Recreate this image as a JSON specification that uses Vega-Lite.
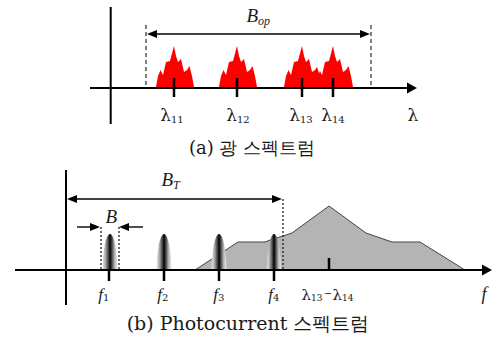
{
  "$schema": "https://vega.github.io/schema/vega-lite/v6.json",
  "width": 492,
  "height": 342,
  "padding": 0,
  "autosize": {"type": "fit", "contains": "padding"},
  "config": {"view": {"stroke": null}},
  "datasets": {
    "thick": [
      {"x": 90, "y": 88, "xe": 410, "ye": 88},
      {"x": 110.7, "y": 7, "xe": 110.7, "ye": 124},
      {"x": 15, "y": 270, "xe": 484, "ye": 270},
      {"x": 66, "y": 170, "xe": 66, "ye": 305}
    ],
    "ticks": [
      {"x": 174, "y": 78, "xe": 174, "ye": 97},
      {"x": 237, "y": 78, "xe": 237, "ye": 97},
      {"x": 302, "y": 78, "xe": 302, "ye": 97},
      {"x": 333, "y": 78, "xe": 333, "ye": 97},
      {"x": 109, "y": 270, "xe": 109, "ye": 281},
      {"x": 164, "y": 270, "xe": 164, "ye": 281},
      {"x": 219, "y": 270, "xe": 219, "ye": 281},
      {"x": 274, "y": 270, "xe": 274, "ye": 281},
      {"x": 329, "y": 258, "xe": 329, "ye": 270}
    ],
    "thin": [
      {"x": 150, "y": 34, "xe": 366, "ye": 34},
      {"x": 70, "y": 199, "xe": 278, "ye": 199},
      {"x": 77, "y": 227, "xe": 92, "ye": 227},
      {"x": 127, "y": 227, "xe": 143, "ye": 227}
    ],
    "dashed": [
      {"x": 146, "y": 25, "xe": 146, "ye": 87},
      {"x": 371, "y": 25, "xe": 371, "ye": 87}
    ],
    "dotted": [
      {"x": 101, "y": 227, "xe": 101, "ye": 270},
      {"x": 119, "y": 227, "xe": 119, "ye": 270},
      {"x": 283, "y": 199, "xe": 283, "ye": 270}
    ],
    "heads": [
      {"x": 152, "y": 34, "dir": "l"},
      {"x": 365, "y": 34, "dir": "r"},
      {"x": 72, "y": 199, "dir": "l"},
      {"x": 277, "y": 199, "dir": "r"},
      {"x": 95, "y": 227, "dir": "r"},
      {"x": 124, "y": 227, "dir": "l"}
    ],
    "axheads": [
      {"x": 412, "y": 88, "dir": "r"},
      {"x": 487, "y": 270, "dir": "r"}
    ],
    "red": [
      {"g": 1, "x": 156, "y": 87}, {"g": 1, "x": 158, "y": 76}, {"g": 1, "x": 160.5, "y": 70}, {"g": 1, "x": 163, "y": 75}, {"g": 1, "x": 166, "y": 62}, {"g": 1, "x": 170, "y": 61}, {"g": 1, "x": 174, "y": 46}, {"g": 1, "x": 176, "y": 56}, {"g": 1, "x": 178, "y": 62}, {"g": 1, "x": 181, "y": 59}, {"g": 1, "x": 184, "y": 72}, {"g": 1, "x": 187, "y": 70}, {"g": 1, "x": 189.5, "y": 66}, {"g": 1, "x": 192, "y": 76}, {"g": 1, "x": 194, "y": 87},
      {"g": 2, "x": 219, "y": 87}, {"g": 2, "x": 221, "y": 76}, {"g": 2, "x": 223.5, "y": 70}, {"g": 2, "x": 226, "y": 75}, {"g": 2, "x": 229, "y": 62}, {"g": 2, "x": 233, "y": 61}, {"g": 2, "x": 237, "y": 46}, {"g": 2, "x": 239, "y": 56}, {"g": 2, "x": 241, "y": 62}, {"g": 2, "x": 244, "y": 59}, {"g": 2, "x": 247, "y": 72}, {"g": 2, "x": 250, "y": 70}, {"g": 2, "x": 252.5, "y": 66}, {"g": 2, "x": 255, "y": 76}, {"g": 2, "x": 257, "y": 87},
      {"g": 3, "x": 284, "y": 87}, {"g": 3, "x": 286, "y": 76}, {"g": 3, "x": 288.5, "y": 70}, {"g": 3, "x": 291, "y": 75}, {"g": 3, "x": 294, "y": 62}, {"g": 3, "x": 298, "y": 61}, {"g": 3, "x": 302, "y": 46}, {"g": 3, "x": 304, "y": 56}, {"g": 3, "x": 306, "y": 62}, {"g": 3, "x": 309, "y": 59}, {"g": 3, "x": 312, "y": 72}, {"g": 3, "x": 315, "y": 70}, {"g": 3, "x": 317, "y": 67}, {"g": 3, "x": 320, "y": 76}, {"g": 3, "x": 322, "y": 87},
      {"g": 4, "x": 316, "y": 87}, {"g": 4, "x": 318, "y": 76}, {"g": 4, "x": 320, "y": 71}, {"g": 4, "x": 322, "y": 75}, {"g": 4, "x": 325, "y": 62}, {"g": 4, "x": 329, "y": 61}, {"g": 4, "x": 333, "y": 46}, {"g": 4, "x": 335, "y": 56}, {"g": 4, "x": 337, "y": 62}, {"g": 4, "x": 340, "y": 59}, {"g": 4, "x": 343, "y": 72}, {"g": 4, "x": 346, "y": 70}, {"g": 4, "x": 348.5, "y": 66}, {"g": 4, "x": 351, "y": 76}, {"g": 4, "x": 353, "y": 87}
    ],
    "grayarea": [
      {"x": 195, "y": 270}, {"x": 238, "y": 242}, {"x": 265, "y": 242}, {"x": 270, "y": 240}, {"x": 283, "y": 236}, {"x": 292, "y": 233}, {"x": 329, "y": 206}, {"x": 366, "y": 233}, {"x": 392, "y": 242}, {"x": 420, "y": 242}, {"x": 465, "y": 270}
    ],
    "bells": [
      {"g": 1, "x": 102.5, "y": 270}, {"g": 1, "x": 103, "y": 258}, {"g": 1, "x": 103.7, "y": 252}, {"g": 1, "x": 104.7, "y": 245}, {"g": 1, "x": 105.8, "y": 240.5}, {"g": 1, "x": 107.3, "y": 236.5}, {"g": 1, "x": 109, "y": 234.3}, {"g": 1, "x": 110, "y": 234}, {"g": 1, "x": 111, "y": 234.3}, {"g": 1, "x": 112.7, "y": 236.5}, {"g": 1, "x": 114.2, "y": 240.5}, {"g": 1, "x": 115.3, "y": 245}, {"g": 1, "x": 116.3, "y": 252}, {"g": 1, "x": 117, "y": 258}, {"g": 1, "x": 117.5, "y": 270},
      {"g": 2, "x": 156.5, "y": 270}, {"g": 2, "x": 157, "y": 258}, {"g": 2, "x": 157.7, "y": 252}, {"g": 2, "x": 158.7, "y": 245}, {"g": 2, "x": 159.8, "y": 240.5}, {"g": 2, "x": 161.3, "y": 236.5}, {"g": 2, "x": 163, "y": 234.3}, {"g": 2, "x": 164, "y": 234}, {"g": 2, "x": 165, "y": 234.3}, {"g": 2, "x": 166.7, "y": 236.5}, {"g": 2, "x": 168.2, "y": 240.5}, {"g": 2, "x": 169.3, "y": 245}, {"g": 2, "x": 170.3, "y": 252}, {"g": 2, "x": 171, "y": 258}, {"g": 2, "x": 171.5, "y": 270},
      {"g": 3, "x": 211.5, "y": 270}, {"g": 3, "x": 212, "y": 258}, {"g": 3, "x": 212.7, "y": 252}, {"g": 3, "x": 213.7, "y": 245}, {"g": 3, "x": 214.8, "y": 240.5}, {"g": 3, "x": 216.3, "y": 236.5}, {"g": 3, "x": 218, "y": 234.3}, {"g": 3, "x": 219, "y": 234}, {"g": 3, "x": 220, "y": 234.3}, {"g": 3, "x": 221.7, "y": 236.5}, {"g": 3, "x": 223.2, "y": 240.5}, {"g": 3, "x": 224.3, "y": 245}, {"g": 3, "x": 225.3, "y": 252}, {"g": 3, "x": 226, "y": 258}, {"g": 3, "x": 226.5, "y": 270},
      {"g": 4, "x": 267, "y": 270}, {"g": 4, "x": 267.5, "y": 258}, {"g": 4, "x": 268, "y": 252}, {"g": 4, "x": 269, "y": 245}, {"g": 4, "x": 270, "y": 240.5}, {"g": 4, "x": 271.5, "y": 236.5}, {"g": 4, "x": 273, "y": 234.3}, {"g": 4, "x": 274, "y": 234}, {"g": 4, "x": 275, "y": 234.3}, {"g": 4, "x": 276.5, "y": 236.5}, {"g": 4, "x": 278, "y": 240.5}, {"g": 4, "x": 279, "y": 245}, {"g": 4, "x": 280, "y": 252}, {"g": 4, "x": 280.5, "y": 258}, {"g": 4, "x": 281, "y": 270}
    ],
    "lamA": [
      {"x": 171, "y": 121, "main": "λ", "sub": "11"},
      {"x": 237, "y": 121, "main": "λ", "sub": "12"},
      {"x": 300, "y": 121, "main": "λ", "sub": "13"},
      {"x": 332, "y": 121, "main": "λ", "sub": "14"}
    ],
    "lamB": [
      {"x": 311, "y": 300, "main": "λ", "sub": "13"},
      {"x": 342, "y": 300, "main": "λ", "sub": "14"}
    ],
    "fl": [
      {"x": 103, "y": 300, "main": "f", "sub": "1"},
      {"x": 162, "y": 300, "main": "f", "sub": "2"},
      {"x": 218, "y": 300, "main": "f", "sub": "3"},
      {"x": 273, "y": 300, "main": "f", "sub": "4"}
    ],
    "Bl": [
      {"x": 258, "y": 22, "main": "B", "sub": "op"},
      {"x": 173, "y": 186, "main": "B", "sub": "T"},
      {"x": 117, "y": 223, "main": "B", "sub": ""}
    ],
    "upright": [
      {"x": 413, "y": 121, "t": "λ"}
    ],
    "italic": [
      {"x": 484, "y": 300, "t": "f"}
    ],
    "minus": [
      {"x": 328, "y": 297, "t": "−"}
    ],
    "capA": [
      {"x": 252, "y": 154, "t": "(a) 광 스펙트럼"}
    ],
    "capB": [
      {"x": 248, "y": 330, "t": "(b) Photocurrent 스펙트럼"}
    ]
  },
  "encoding": {
    "x": {"field": "x", "type": "quantitative", "scale": {"domain": [0, 492], "nice": false, "zero": false}, "axis": null},
    "y": {"field": "y", "type": "quantitative", "scale": {"domain": [0, 342], "nice": false, "zero": false, "reverse": true}, "axis": null}
  },
  "layer": [
    {
      "data": {"name": "red"},
      "mark": {"type": "area", "color": "#ff0000", "opacity": 1},
      "encoding": {"y2": {"datum": 88}, "detail": {"field": "g"}}
    },
    {
      "data": {"name": "grayarea"},
      "mark": {"type": "area", "fill": "#b4b4b4", "stroke": "#444444", "strokeWidth": 1, "opacity": 1, "fillOpacity": 1},
      "encoding": {"y2": {"datum": 270}}
    },
    {
      "data": {"name": "bells"},
      "mark": {"type": "area", "opacity": 1, "fill": {"gradient": "linear", "x1": 0, "x2": 1, "y1": 0, "y2": 0, "stops": [
        {"offset": 0, "color": "#ececec"},
        {"offset": 0.2, "color": "#a8a8a8"},
        {"offset": 0.4, "color": "#404040"},
        {"offset": 0.5, "color": "#000000"},
        {"offset": 0.62, "color": "#444444"},
        {"offset": 0.8, "color": "#b0b0b0"},
        {"offset": 1, "color": "#f0f0f0"}
      ]}},
      "encoding": {"y2": {"datum": 270}, "detail": {"field": "g"}}
    },
    {
      "data": {"name": "thick"},
      "mark": {"type": "rule", "color": "#000000", "strokeWidth": 2},
      "encoding": {"x2": {"field": "xe"}, "y2": {"field": "ye"}}
    },
    {
      "data": {"name": "ticks"},
      "mark": {"type": "rule", "color": "#000000", "strokeWidth": 2.5},
      "encoding": {"x2": {"field": "xe"}, "y2": {"field": "ye"}}
    },
    {
      "data": {"name": "thin"},
      "mark": {"type": "rule", "color": "#000000", "strokeWidth": 1.4},
      "encoding": {"x2": {"field": "xe"}, "y2": {"field": "ye"}}
    },
    {
      "data": {"name": "dashed"},
      "mark": {"type": "rule", "color": "#000000", "strokeWidth": 1, "strokeDash": [4, 3]},
      "encoding": {"x2": {"field": "xe"}, "y2": {"field": "ye"}}
    },
    {
      "data": {"name": "dotted"},
      "mark": {"type": "rule", "color": "#222222", "strokeWidth": 1.3, "strokeDash": [2, 2]},
      "encoding": {"x2": {"field": "xe"}, "y2": {"field": "ye"}}
    },
    {
      "data": {"name": "heads"},
      "mark": {"type": "point", "filled": true, "color": "#000000", "opacity": 1, "size": 100, "strokeWidth": 0},
      "encoding": {"shape": {"field": "dir", "type": "nominal", "scale": {"domain": ["r", "l"], "range": ["M-1,-0.8L1,0L-1,0.8Z", "M1,-0.8L-1,0L1,0.8Z"]}, "legend": null}}
    },
    {
      "data": {"name": "axheads"},
      "mark": {"type": "point", "filled": true, "color": "#000000", "opacity": 1, "size": 100, "strokeWidth": 0, "shape": "M-1,-1.1L1,0L-1,1.1Z"}
    },
    {
      "data": {"name": "lamA"},
      "mark": {"type": "text", "align": "right", "baseline": "alphabetic", "font": "DejaVu Serif", "fontSize": 17, "color": "#1a1a1a"},
      "encoding": {"text": {"field": "main"}}
    },
    {
      "data": {"name": "lamA"},
      "mark": {"type": "text", "align": "left", "baseline": "alphabetic", "font": "DejaVu Serif", "fontSize": 10, "dy": 2, "color": "#1a1a1a"},
      "encoding": {"text": {"field": "sub"}}
    },
    {
      "data": {"name": "lamB"},
      "mark": {"type": "text", "align": "right", "baseline": "alphabetic", "font": "DejaVu Serif", "fontSize": 15, "color": "#1a1a1a"},
      "encoding": {"text": {"field": "main"}}
    },
    {
      "data": {"name": "lamB"},
      "mark": {"type": "text", "align": "left", "baseline": "alphabetic", "font": "DejaVu Serif", "fontSize": 9, "dy": 1, "color": "#1a1a1a"},
      "encoding": {"text": {"field": "sub"}}
    },
    {
      "data": {"name": "fl"},
      "mark": {"type": "text", "align": "right", "baseline": "alphabetic", "font": "Liberation Serif", "fontStyle": "italic", "fontSize": 17, "color": "#1a1a1a"},
      "encoding": {"text": {"field": "main"}}
    },
    {
      "data": {"name": "fl"},
      "mark": {"type": "text", "align": "left", "baseline": "alphabetic", "font": "DejaVu Serif", "fontSize": 10, "dy": 1, "color": "#1a1a1a"},
      "encoding": {"text": {"field": "sub"}}
    },
    {
      "data": {"name": "Bl"},
      "mark": {"type": "text", "align": "right", "baseline": "alphabetic", "font": "Liberation Serif", "fontStyle": "italic", "fontSize": 19, "color": "#1a1a1a"},
      "encoding": {"text": {"field": "main"}}
    },
    {
      "data": {"name": "Bl"},
      "mark": {"type": "text", "align": "left", "baseline": "alphabetic", "font": "Liberation Serif", "fontStyle": "italic", "fontSize": 12, "dy": 3, "color": "#1a1a1a"},
      "encoding": {"text": {"field": "sub"}}
    },
    {
      "data": {"name": "upright"},
      "mark": {"type": "text", "align": "center", "baseline": "alphabetic", "font": "DejaVu Serif", "fontSize": 17, "color": "#1a1a1a"},
      "encoding": {"text": {"field": "t"}}
    },
    {
      "data": {"name": "italic"},
      "mark": {"type": "text", "align": "center", "baseline": "alphabetic", "font": "Liberation Serif", "fontStyle": "italic", "fontSize": 18, "color": "#1a1a1a"},
      "encoding": {"text": {"field": "t"}}
    },
    {
      "data": {"name": "minus"},
      "mark": {"type": "text", "align": "center", "baseline": "alphabetic", "font": "DejaVu Serif", "fontSize": 10, "color": "#1a1a1a"},
      "encoding": {"text": {"field": "t"}}
    },
    {
      "data": {"name": "capA"},
      "mark": {"type": "text", "align": "center", "baseline": "alphabetic", "font": "DejaVu Serif", "fontSize": 18, "color": "#1a1a1a"},
      "encoding": {"text": {"field": "t"}}
    },
    {
      "data": {"name": "capB"},
      "mark": {"type": "text", "align": "center", "baseline": "alphabetic", "font": "DejaVu Serif", "fontSize": 19, "color": "#1a1a1a"},
      "encoding": {"text": {"field": "t"}}
    }
  ]
}
